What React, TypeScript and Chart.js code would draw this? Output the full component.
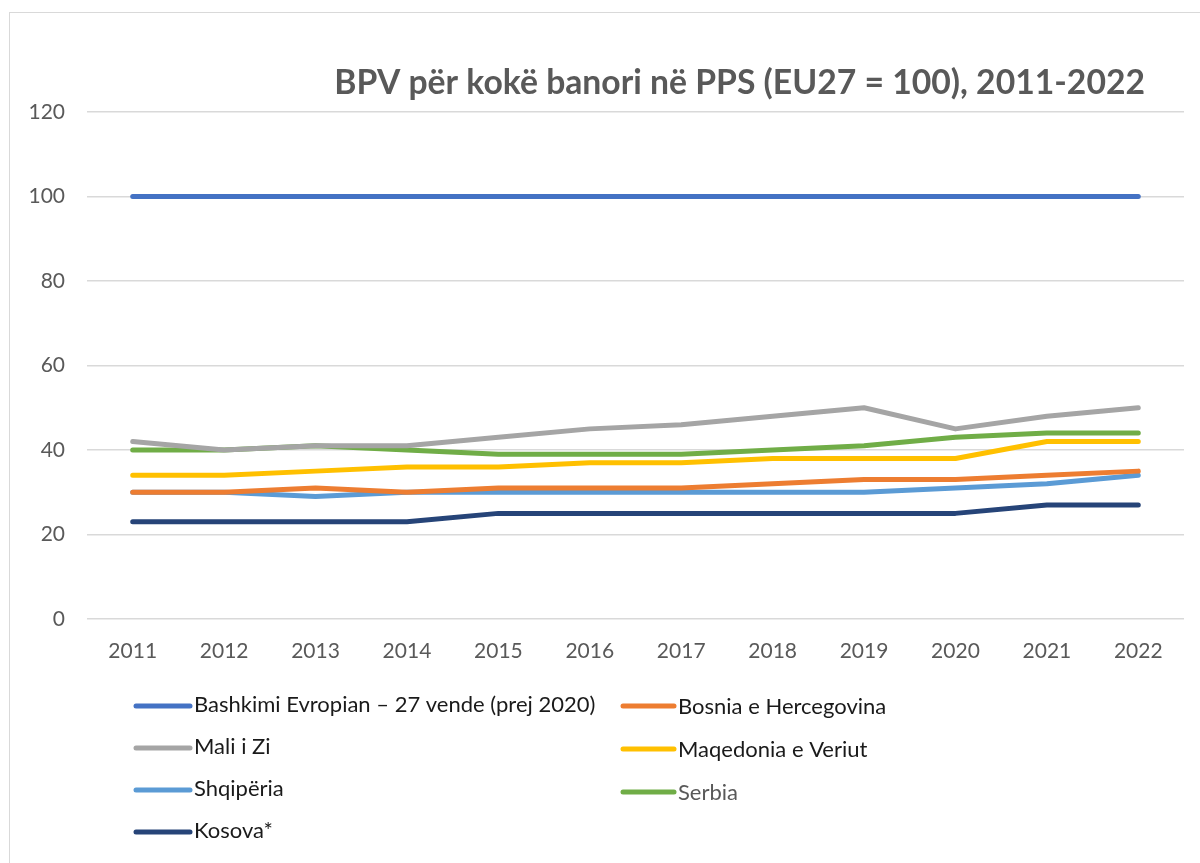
import { useEffect, useRef } from 'react';
import { Chart, registerables } from 'chart.js';

Chart.register(...registerables);

const FONT = 'Lato, "Open Sans", sans-serif';

const years = ['2011', '2012', '2013', '2014', '2015', '2016', '2017', '2018', '2019', '2020', '2021', '2022'];
const eu27 = [100, 100, 100, 100, 100, 100, 100, 100, 100, 100, 100, 100];
const bosnia = [30, 30, 31, 30, 31, 31, 31, 32, 33, 33, 34, 35];
const montenegro = [42, 40, 41, 41, 43, 45, 46, 48, 50, 45, 48, 50];
const northMacedonia = [34, 34, 35, 36, 36, 37, 37, 38, 38, 38, 42, 42];
const albania = [30, 30, 29, 30, 30, 30, 30, 30, 30, 31, 32, 34];
const serbia = [40, 40, 41, 40, 39, 39, 39, 40, 41, 43, 44, 44];
const kosovo = [23, 23, 23, 23, 25, 25, 25, 25, 25, 25, 27, 27];

const seriesNames = [
  'Bashkimi Evropian – 27 vende (prej 2020)',
  'Bosnia e Hercegovina',
  'Mali i Zi',
  'Maqedonia e Veriut',
  'Shqipëria',
  'Serbia',
  'Kosova*',
];
const seriesColors = ['#4472C4', '#ED7D31', '#A5A5A5', '#FFC000', '#5B9BD5', '#70AD47', '#264478'];
const legendTextColors = ['#1a1a1a', '#1a1a1a', '#1a1a1a', '#1a1a1a', '#1a1a1a', '#595959', '#1a1a1a'];
const seriesData = [eu27, bosnia, montenegro, northMacedonia, albania, serbia, kosovo];

const titleText = 'BPV për kokë banori në PPS (EU27 = 100), 2011-2022';

const overlayPlugin = {
  id: 'overlay',
  afterDraw(chart: any) {
    const ctx = chart.ctx;
    const ca = chart.chartArea;
    ctx.save();
    // title
    ctx.font = `bold 33.7px ${FONT}`;
    ctx.fillStyle = '#595959';
    ctx.textAlign = 'right';
    ctx.textBaseline = 'middle';
    ctx.fillText(titleText, ca.right - 39, ca.top - 29);

    // legend
    const colStart = [ca.left + 49, ca.left + 536];
    const colTextOff = [58, 55];
    ctx.font = `22px ${FONT}`;
    ctx.textAlign = 'left';
    ctx.lineCap = 'round';
    ctx.lineWidth = 5;
    seriesNames.forEach((name, i) => {
      const col = i % 2;
      const row = Math.floor(i / 2);
      const y = ca.bottom + 86 + row * 42 + (col === 1 ? row : 0);
      const x = colStart[col];
      ctx.strokeStyle = seriesColors[i];
      ctx.beginPath();
      ctx.moveTo(x, y + 1);
      ctx.lineTo(x + colTextOff[col] - 4, y + 1);
      ctx.stroke();
      ctx.fillStyle = legendTextColors[i];
      ctx.fillText(name, x + colTextOff[col], y + (col === 1 ? 2 : 0));
    });
    ctx.restore();
  },
};

export default function App() {
  const ref = useRef<HTMLCanvasElement>(null);
  useEffect(() => {
    if (!ref.current) return;
    const chart = new Chart(ref.current, {
      type: 'line',
      data: {
        labels: years,
        datasets: seriesData.map((d, i) => ({
          label: seriesNames[i],
          data: d,
          borderColor: seriesColors[i],
          backgroundColor: seriesColors[i],
          borderWidth: 5,
          borderCapStyle: 'round',
          borderJoinStyle: 'round',
          pointRadius: 0,
          tension: 0,
          fill: false,
        })),
      },
      options: {
        animation: false,
        responsive: false,
        layout: { padding: { top: 112, right: 16, left: 0, bottom: 0 } },
        plugins: {
          legend: { display: false },
          title: { display: false },
          tooltip: { enabled: false },
        },
        scales: {
          x: {
            offset: true,
            grid: { display: false },
            border: { display: false },
            ticks: { color: '#595959', font: { family: FONT, size: 21 }, padding: 12, maxRotation: 0 },
            afterFit: (s: any) => { s.height = 244; },
          },
          y: {
            min: 0,
            max: 120,
            ticks: { stepSize: 20, color: '#595959', font: { family: FONT, size: 21 }, padding: 22 },
            grid: { color: '#d9d9d9', lineWidth: 1.5, drawTicks: false },
            border: { display: false },
            afterFit: (s: any) => { s.width = 87; },
          },
        },
      },
      plugins: [overlayPlugin],
    });
    return () => chart.destroy();
  }, []);
  return (
    <div style={{ position: 'fixed', left: 0, top: 0, width: 1200, height: 863, background: '#fff' }}>
      <div style={{ position: 'absolute', left: 9, top: 12, width: 1200, height: 860, border: '1.5px solid #d9d9d9', boxSizing: 'border-box' }} />
      <canvas ref={ref} width={1200} height={863} style={{ position: 'absolute', left: 0, top: 0 }} />
    </div>
  );
}
